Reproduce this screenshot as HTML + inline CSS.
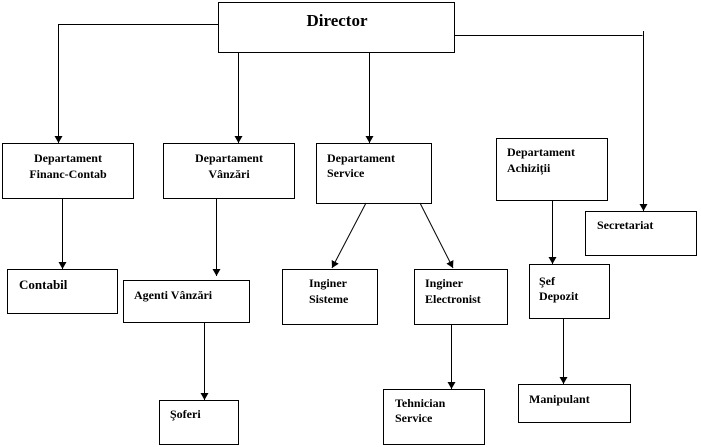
<!DOCTYPE html>
<html><head><meta charset="utf-8"><style>
html,body{margin:0;padding:0;background:#fff}
svg{display:block}
text{font-family:"Liberation Serif","Times New Roman",serif;font-weight:bold;font-size:12px;fill:#000}
</style></head><body>
<svg width="701" height="447" viewBox="0 0 701 447" xmlns="http://www.w3.org/2000/svg">
<defs><marker id="a" markerWidth="8" markerHeight="8" refX="7" refY="4" orient="auto" markerUnits="userSpaceOnUse"><path d="M0,0 L7,4 L0,8 Z" fill="#000"/></marker></defs>
<g fill="#fff" stroke="#000" stroke-width="1" shape-rendering="crispEdges">
<rect x="218.5" y="2.5" width="236" height="50"/>
<rect x="2.5" y="143.5" width="131" height="55"/>
<rect x="163.5" y="143.5" width="131" height="55"/>
<rect x="316.5" y="143.5" width="115" height="60"/>
<rect x="496.5" y="138.5" width="111" height="62"/>
<rect x="585.5" y="211.5" width="111" height="44"/>
<rect x="7.5" y="269.5" width="110" height="44"/>
<rect x="123.5" y="280.5" width="126" height="42"/>
<rect x="282.5" y="269.5" width="95" height="55"/>
<rect x="414.5" y="269.5" width="93" height="55"/>
<rect x="529.5" y="264.5" width="80" height="54"/>
<rect x="159.5" y="400.5" width="79" height="44"/>
<rect x="383.5" y="389.5" width="101" height="55"/>
<rect x="518.5" y="384.5" width="112" height="38"/>
</g>
<g fill="none" stroke="#000" stroke-width="1">
<path d="M218,24.5 H58.5 V143" marker-end="url(#a)"/>
<path d="M238.5,52 V143" marker-end="url(#a)"/>
<path d="M369.5,52 V143" marker-end="url(#a)"/>
<path d="M455,35.5 H642.5"/>
<path d="M643.5,31 V211" marker-end="url(#a)"/>
<path d="M62.5,198 V269" marker-end="url(#a)"/>
<path d="M216.5,198 V276" marker-end="url(#a)"/>
<path d="M204.5,322 V400" marker-end="url(#a)"/>
<path d="M366,203 L332,268" marker-end="url(#a)"/>
<path d="M420,203 L453,268" marker-end="url(#a)"/>
<path d="M451.5,324 V389" marker-end="url(#a)"/>
<path d="M552.5,200 V264" marker-end="url(#a)"/>
<path d="M563.5,318 V384" marker-end="url(#a)"/>
</g>
<text x="337" y="26" text-anchor="middle" style="font-size:17px">Director</text>
<text x="68" y="162" text-anchor="middle">Departament</text>
<text x="68" y="178" text-anchor="middle">Financ-Contab</text>
<text x="229" y="162" text-anchor="middle">Departament</text>
<text x="229" y="178" text-anchor="middle">Vânzări</text>
<text x="327" y="162">Departament</text>
<text x="327" y="177">Service</text>
<text x="507" y="156">Departament</text>
<text x="507" y="172">Achiziții</text>
<text x="597" y="229">Secretariat</text>
<text x="19" y="289" style="font-size:13px">Contabil</text>
<text x="134" y="299">Agenti Vânzări</text>
<text x="309" y="287">Inginer</text>
<text x="309" y="303">Sisteme</text>
<text x="425" y="287">Inginer</text>
<text x="425" y="303">Electronist</text>
<text x="539" y="285">Şef</text>
<text x="539" y="300">Depozit</text>
<text x="170" y="418">Şoferi</text>
<text x="395" y="407">Tehnician</text>
<text x="395" y="422">Service</text>
<text x="529" y="403">Manipulant</text>
</svg>
</body></html>
